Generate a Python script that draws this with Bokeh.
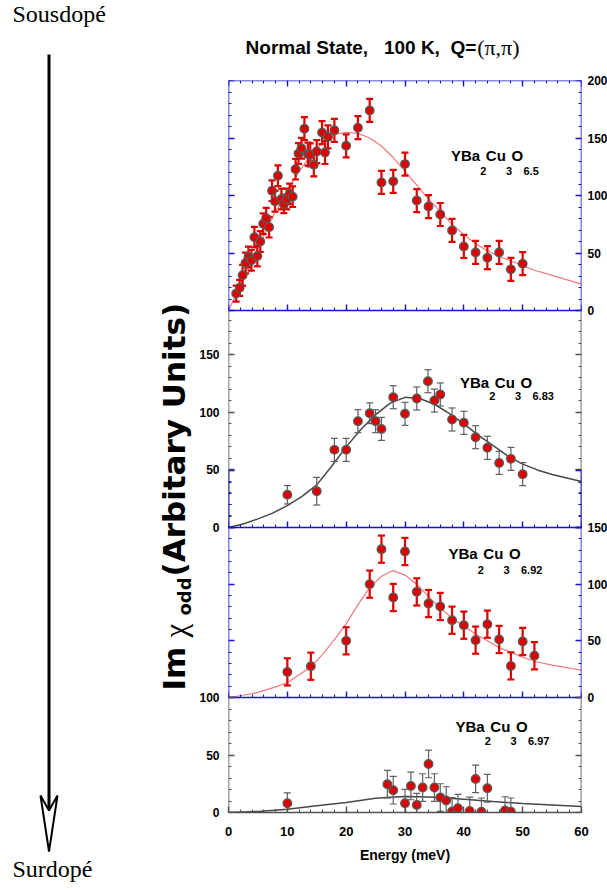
import numpy as np
from bokeh.plotting import figure
from bokeh.models import (Range1d, LinearAxis, SingleIntervalTicker, FixedTicker,
                          CustomJSTickFormatter, ColumnDataSource)
from bokeh.layouts import row, column
from bokeh.embed import file_html
from bokeh.resources import INLINE
from bokeh.core.properties import value

SANS = "'Liberation Sans', Arial, sans-serif"
WIDE = "'DejaVu Sans', Verdana, sans-serif"
SERIF = "'Liberation Serif', 'Times New Roman', serif"

BLUE = "#1414d2"
GREY = "#505050"
DOT = "#e10000"
BAR_RED = "#dd0000"
BAR_GREY = "#5f5f5f"
FIT_RED = "#f07a7a"
FIT_GREY = "#474747"

# ---------------- measurements: Im chi_odd vs energy (meV) ----------------
# YBa2Cu3O6.5
energy_65 = [1.3, 1.9, 2.4, 2.9, 3.4, 3.9, 4.4, 4.9, 5.4, 5.9, 6.4, 6.9, 7.4, 7.9, 8.4,
             9.0, 9.4, 9.9, 10.4, 10.9, 11.4, 11.9, 12.4, 12.9, 13.5, 13.9, 14.5, 15.0,
             15.9, 16.4, 16.9, 18.0, 20.0, 22.0, 24.0, 26.0, 28.0, 30.0, 32.0, 34.0,
             36.0, 38.0, 40.0, 42.0, 44.0, 46.0, 48.0, 50.0]
imchi_65 = [14.7, 19.7, 30.7, 41.3, 46.5, 43.6, 63.8, 47.4, 60.0, 75.4, 80.3, 72.5, 104.2,
            95.0, 117.2, 97.0, 92.7, 97.0, 101.4, 99.0, 122.9, 136.5, 141.1, 158.1, 135.9,
            135.4, 126.7, 138.2, 154.7, 137.4, 150.9, 156.7, 143.2, 159.0, 174.0, 111.4,
            112.3, 127.3, 95.6, 90.4, 83.5, 69.6, 55.7, 50.5, 45.9, 50.5, 35.8, 40.7]
err_65 = [7, 7, 9, 9, 9, 9, 9, 9, 9, 9, 9, 9, 9, 9, 9, 9, 8, 9, 9, 9, 9, 9, 9, 10,
          10, 10, 10, 10, 10, 10, 10, 10, 10, 10, 10, 10, 10, 10, 10, 10, 10, 10, 10,
          10, 10, 10, 10, 10]
fit_energy_65 = [0, 2, 4, 6, 8, 10, 12, 14, 16, 18, 20, 22, 24, 26, 28, 30, 32, 34, 36, 38,
                 40, 42, 44, 46, 48, 50, 52, 54, 56, 58, 60]
fit_65 = [0, 22, 44, 65, 86, 104, 121, 135, 146, 153, 155, 154, 150, 143, 133, 121, 109, 97,
          86, 75, 66, 58, 52, 47, 43, 39, 35, 32, 29, 26, 23]

# YBa2Cu3O6.83
energy_683 = [10, 15, 18, 20, 22, 24, 25, 26, 28, 30, 32, 33.9, 35, 36, 38, 40, 42, 44, 46, 48, 50]
imchi_683 = [28.4, 31.5, 67.4, 67.4, 92.3, 99.2, 92.3, 85.6, 113.1, 98.7, 112.0, 127.0, 110.2,
             115.5, 93.8, 90.9, 78.4, 69.2, 56.1, 59.6, 46.3]
err_683 = [8, 12, 10, 10, 10, 9, 10, 10, 10, 10, 10, 10, 10, 10, 10, 10, 10, 10, 10, 10, 10]
fit_energy_683 = [0, 2.5, 5, 7.5, 10, 12.5, 15, 17.5, 20, 22.5, 25, 27.5, 30, 32.5, 35, 37.5,
                  40, 42.5, 45, 47.5, 50, 52.5, 55, 57.5, 60]
fit_683 = [0, 3, 7.5, 12.5, 19, 27, 37, 53, 70, 85, 98, 108, 113, 112, 107, 99, 90, 80, 71,
           62, 55, 50, 46, 43, 40]

# YBa2Cu3O6.92
energy_692 = [10, 14, 20, 24, 26, 28, 30, 32, 34, 36, 38, 40, 42, 44, 46, 48, 50, 52]
imchi_692 = [22.6, 27.6, 50.0, 100.0, 130.9, 88.2, 128.8, 93.2, 82.9, 80.3, 68.2, 63.8, 50.6,
             64.7, 51.2, 27.9, 49.4, 36.8]
err_692 = [12, 12, 12, 12, 12, 12, 12, 12, 12, 12, 12, 12, 12, 12, 12, 12, 12, 12]
fit_energy_692 = [0, 2.5, 5, 7.5, 10, 12, 14, 16, 18, 20, 22, 24, 26, 28, 30, 32, 34, 36, 38,
                  40, 42, 44, 46, 48, 50, 52, 55, 58, 60]
fit_692 = [0, 2, 4.5, 8.5, 13, 20, 27, 38, 51, 65, 82, 97, 107, 112, 108, 100, 89, 79, 70, 63,
           56, 50, 44, 40, 35.5, 32, 28.5, 26, 24]

# YBa2Cu3O6.97
energy_697 = [10, 27, 28, 30, 31, 32, 33, 34, 35, 36, 37, 38, 39, 41, 42, 43, 44, 47, 48]
imchi_697 = [8.1, 24.6, 19.4, 8.1, 23.1, 6.6, 21.7, 42.2, 21.7, 13.0, 10.4, 0.9, 3.8, 1.4,
             29.2, 0.6, 21.1, 1.7, 0.6]
err_697 = [9, 12, 12, 12, 12, 10, 12, 12, 12, 12, 12, 12, 12, 12, 12, 12, 12, 12, 12]
fit_energy_697 = [0, 5, 10, 15, 20, 25, 27.5, 30, 32.5, 35, 40, 45, 50, 55, 60]
fit_697 = [0, 0.9, 2.9, 5.8, 8.7, 12.4, 13.3, 13.9, 13.8, 13.3, 11.6, 9.5, 7.8, 6.6, 5.2]

oxygen = ["6.5", "6.83", "6.92", "6.97"]

# ---------------- page geometry (pixels) ----------------
LEFT_W = 196
PAGE_W, PAGE_H = 607, 890
FRAME_L, FRAME_R = 227, 580
FRAME_T, FRAME_B = 80, 812
HEADER_H = 72
MAIN_TOP = FRAME_T - HEADER_H
MAIN_W = PAGE_W - LEFT_W

panels = [
    dict(name="o65", top=80, bottom=310, vmax=200, color=BLUE, base=BLUE, bar=BAR_RED, bar_w=2.2,
         fit=FIT_RED, fit_w=1.2, labels="right", e=energy_65, v=imchi_65, err=err_65,
         fe=fit_energy_65, fv=fit_65, ox=oxygen[0], at=(449.5, 154.5, 170.0)),
    dict(name="o683", top=310, bottom=527, vmax=188.4, color=GREY, base=BLUE, bar=BAR_GREY, bar_w=1.2,
         fit=FIT_GREY, fit_w=1.5, labels="left", e=energy_683, v=imchi_683, err=err_683,
         fe=fit_energy_683, fv=fit_683, ox=oxygen[1], at=(458.5, 382.0, 395.0)),
    dict(name="o692", top=527, bottom=697, vmax=150, color=BLUE, base=BLUE, bar=BAR_RED, bar_w=2.2,
         fit=FIT_RED, fit_w=1.2, labels="right", e=energy_692, v=imchi_692, err=err_692,
         fe=fit_energy_692, fv=fit_692, ox=oxygen[2], at=(447.0, 553.0, 569.0)),
    dict(name="o697", top=697, bottom=812, vmax=100, color=GREY, base=GREY, bar=BAR_GREY, bar_w=1.2,
         fit=FIT_GREY, fit_w=1.5, labels="left", e=energy_697, v=imchi_697, err=err_697,
         fe=fit_energy_697, fv=fit_697, ox=oxygen[3], at=(454.0, 726.3, 740.5)),
]


def style_ticks(ax, color):
    ax.axis_line_color = color
    ax.axis_line_width = 1.6
    ax.major_tick_line_color = color
    ax.minor_tick_line_color = color
    ax.major_tick_line_width = 1.4
    ax.minor_tick_line_width = 1.1
    ax.major_tick_in = 6
    ax.major_tick_out = 0
    ax.minor_tick_in = 3
    ax.minor_tick_out = 0


def frame_axis(p, side, color, ticker, **kw):
    """Tick-only axis pinned to a panel edge."""
    ax = LinearAxis(ticker=ticker, **kw)
    style_ticks(ax, color)
    ax.major_label_text_font_size = "0px"
    ax.major_label_text_color = None
    ax.major_label_standoff = 0
    p.add_layout(ax, side)
    return ax


def label_axis(p, side, pos, txt, standoff):
    """Label-only axis: one number per tick position of the stacked panels."""
    fmt = CustomJSTickFormatter(args=dict(pos=pos, txt=txt), code="""
        let best = 0, dist = Infinity;
        for (let i = 0; i < pos.length; i++) {
            const d = Math.abs(pos[i] - tick);
            if (d < dist) { dist = d; best = i; }
        }
        return txt[best];
    """)
    ax = LinearAxis(ticker=FixedTicker(ticks=pos, minor_ticks=[]), formatter=fmt)
    ax.axis_line_color = None
    ax.major_tick_line_color = None
    ax.minor_tick_line_color = None
    ax.major_tick_in = 0
    ax.major_tick_out = 0
    ax.major_label_standoff = standoff
    ax.major_label_text_font = SANS
    ax.major_label_text_font_style = "bold"
    ax.major_label_text_font_size = "12px"
    ax.major_label_text_color = "black"
    p.add_layout(ax, side)


def y_ticker():
    return SingleIntervalTicker(interval=50, num_minor_ticks=5)


def x_ticker():
    return SingleIntervalTicker(interval=10, num_minor_ticks=5)


# ---------------- main plotting area: four stacked panels ----------------
p = figure(frame_width=FRAME_R - FRAME_L, frame_height=FRAME_B - FRAME_T,
           x_range=Range1d(0, 60), y_range=Range1d(FRAME_B, FRAME_T),
           x_axis_location=None, y_axis_location=None,
           min_border_left=FRAME_L - LEFT_W, min_border_right=PAGE_W - FRAME_R,
           min_border_top=MAIN_TOP, min_border_bottom=PAGE_H - FRAME_B,
           output_backend="svg", toolbar_location=None,
           background_fill_color="white", border_fill_color="white")
p.outline_line_color = None
p.grid.visible = False
p.extra_x_ranges["px"] = Range1d(FRAME_L, FRAME_R)

label_pos = {"left": [], "right": []}
label_txt = {"left": [], "right": []}

for i, pn in enumerate(panels):
    k = (pn["bottom"] - pn["top"]) / pn["vmax"]
    p.extra_y_ranges[pn["name"]] = Range1d(start=(pn["bottom"] - FRAME_B) / k,
                                           end=(pn["bottom"] - FRAME_T) / k)
    name = pn["name"]
    last = i == len(panels) - 1

    for tv in range(0, int(pn["vmax"]) + 1, 50):
        label_pos[pn["labels"]].append(pn["bottom"] - tv * k)
        label_txt[pn["labels"]].append(str(tv))

    frame_axis(p, "left", pn["color"], y_ticker(), y_range_name=name,
               fixed_location=0, bounds=(0, pn["vmax"]))
    frame_axis(p, "right", pn["color"], y_ticker(), y_range_name=name,
               fixed_location=60, bounds=(0, pn["vmax"]))
    if i == 0:
        frame_axis(p, "above", pn["color"], x_ticker(), y_range_name=name,
                   fixed_location=pn["vmax"])
    if last:
        xa = LinearAxis(ticker=x_ticker())
        style_ticks(xa, pn["base"])
        xa.major_label_text_font = SANS
        xa.major_label_text_font_style = "bold"
        xa.major_label_text_font_size = "13px"
        xa.major_label_text_color = "black"
        xa.major_label_standoff = 14
        xa.axis_label = "Energy (meV)"
        xa.axis_label_text_font = SANS
        xa.axis_label_text_font_style = "bold"
        xa.axis_label_text_font_size = "14px"
        xa.axis_label_text_color = "black"
        xa.axis_label_standoff = 8
        p.add_layout(xa, "below")
    else:
        frame_axis(p, "below", pn["base"], x_ticker(), y_range_name=name, fixed_location=0)

    e = np.asarray(pn["e"], dtype=float)
    v = np.asarray(pn["v"], dtype=float)
    err = np.asarray(pn["err"], dtype=float)
    src = ColumnDataSource(dict(e=e, v=v, lo=v - err, hi=v + err))

    p.line(pn["fe"], pn["fv"], y_range_name=name, line_color=pn["fit"], line_width=pn["fit_w"])
    p.segment(x0="e", y0="lo", x1="e", y1="hi", source=src, y_range_name=name,
              line_color=pn["bar"], line_width=pn["bar_w"])
    for end in ("lo", "hi"):
        p.scatter(x="e", y=end, source=src, y_range_name=name, marker="dash", size=7,
                  line_color=pn["bar"], line_width=pn["bar_w"])
    p.scatter(x="e", y="v", source=src, y_range_name=name, marker="circle", size=8.5,
              fill_color=DOT, line_color="#5a5a5a", line_width=1.4)

    # compound name with subscripts
    x0, yc, ys = pn["at"]
    ftxt = ColumnDataSource(dict(
        x=[x0, x0 + 29.2, x0 + 34.8, x0 + 55, x0 + 60.6, x0 + 72.5],
        y=[yc, ys, yc, ys, yc, ys],
        t=["YBa", "2", "Cu", "3", "O", pn["ox"]],
        s=["15px", "11px", "15px", "11px", "15px", "11px"]))
    p.text(x="x", y="y", text="t", text_font_size="s", source=ftxt,
           x_range_name="px", text_font=value(SANS),
           text_font_style="bold", text_color="black", text_baseline="middle")

# the 6.92 frame reaches up into the 6.83 panel
frame_axis(p, "left", BLUE, y_ticker(), y_range_name="o692", fixed_location=0, bounds=(150, 200))
frame_axis(p, "right", BLUE, y_ticker(), y_range_name="o692", fixed_location=60, bounds=(150, 200))

label_axis(p, "left", label_pos["left"], label_txt["left"], 9)
label_axis(p, "right", label_pos["right"], label_txt["right"], 6)

# ---------------- header with the title ----------------
h = figure(width=MAIN_W, height=HEADER_H, x_range=Range1d(LEFT_W, PAGE_W), y_range=Range1d(HEADER_H, 0),
           x_axis_location=None, y_axis_location=None, min_border=0,
           output_backend="svg", toolbar_location=None, border_fill_color="white")
h.outline_line_color = None
h.grid.visible = False
h.text(x=[487], y=[46.5], text=["Normal State,\u00a0\u00a0\u00a0100 K,\u00a0\u00a0Q="],
       text_font=value(SANS), text_font_style="bold", text_font_size="19px",
       text_align="right", text_baseline="middle", text_color="black")
h.text(x=[488], y=[46.5], text=["(\u03c0,\u03c0)"], text_font=value(SERIF),
       text_font_size="22px", text_align="left", text_baseline="middle", text_color="black")

# ---------------- left strip: doping arrow and ordinate title ----------------
lf = figure(width=LEFT_W, height=PAGE_H, x_range=Range1d(0, LEFT_W), y_range=Range1d(PAGE_H, 0),
            x_axis_location=None, y_axis_location=None, min_border=0,
            output_backend="svg", toolbar_location=None, border_fill_color="white")
lf.outline_line_color = None
lf.grid.visible = False
lf.text(x=[12, 12], y=[13.7, 868.7], text=["Sousdop\u00e9", "Surdop\u00e9"], text_font=value(SERIF),
        text_font_size="24px", text_baseline="middle", text_color="black")
lf.line([48.5, 48.5], [54, 808], line_color="black", line_width=3)
lf.patch([40, 48.5, 57, 48.5], [795, 810, 795, 851], fill_color="white",
         line_color="black", line_width=2)

rot = np.pi / 2
lf.text(x=[173], y=[576], text=["(Arbitary Units)"], angle=rot, text_font=value(WIDE),
        text_font_style="bold", text_font_size="31px", text_baseline="middle", text_color="black")
lf.text(x=[184], y=[615], text=["odd"], angle=rot, text_font=value(WIDE),
        text_font_style="bold", text_font_size="18px", text_baseline="middle", text_color="black")
lf.text(x=[175], y=[637], text=["\u03c7"], angle=rot, text_font=value(SERIF),
        text_font_size="31px", text_baseline="middle", text_color="black")
lf.text(x=[173], y=[690], text=["Im"], angle=rot, text_font=value(WIDE),
        text_font_style="bold", text_font_size="31px", text_baseline="middle", text_color="black")

layout = row(lf, column(h, p))
open("out.html", "w").write(file_html(layout, INLINE))
